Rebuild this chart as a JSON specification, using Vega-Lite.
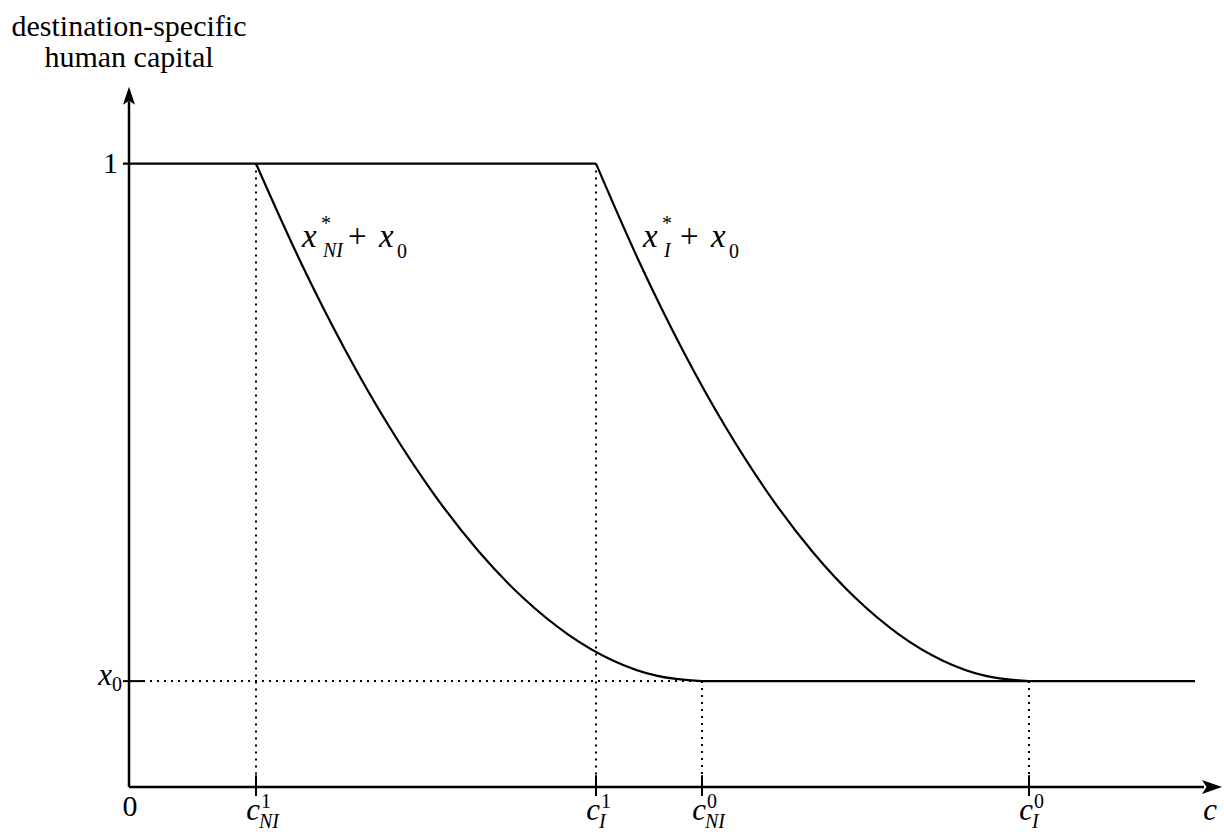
{
  "$schema": "https://vega.github.io/schema/vega-lite/v6.json",
  "width": 1224,
  "height": 832,
  "autosize": {"type": "fit", "contains": "padding"},
  "padding": 0,
  "background": "white",
  "config": {"view": {"stroke": null}, "text": {"font": "Liberation Serif", "color": "black"}},
  "encoding": {
    "x": {"field": "c", "type": "quantitative", "scale": {"domain": [-1.29, 10.95], "nice": false, "zero": false}, "axis": null},
    "y": {"field": "h", "type": "quantitative", "scale": {"domain": [-0.0688, 1.2624], "nice": false, "zero": false}, "axis": null}
  },
  "layer": [
    {
      "data": {"values": [
        {"c": 1.27, "h": 1, "h2": 0.02},
        {"c": 4.67, "h": 1, "h2": 0.02},
        {"c": 5.73, "h": 0.17, "h2": 0.02},
        {"c": 9.0, "h": 0.17, "h2": 0.02}
      ]},
      "mark": {"type": "rule", "color": "black", "strokeWidth": 2, "strokeDash": [2, 5]},
      "encoding": {"y2": {"field": "h2"}}
    },
    {
      "data": {"values": [{"c": 0.14, "c2": 5.73, "h": 0.17}]},
      "mark": {"type": "rule", "color": "black", "strokeWidth": 2, "strokeDash": [2, 5]},
      "encoding": {"x2": {"field": "c2"}}
    },
    {
      "data": {"values": [
        {"series": "top", "c": -0.06, "h": 1},
        {"series": "top", "c": 4.67, "h": 1},
        {"series": "NI", "c": 1.27, "h": 1.0},
        {"series": "NI", "c": 1.716, "h": 0.8423},
        {"series": "NI", "c": 2.162, "h": 0.7012},
        {"series": "NI", "c": 2.608, "h": 0.5767},
        {"series": "NI", "c": 3.054, "h": 0.4688},
        {"series": "NI", "c": 3.5, "h": 0.3775},
        {"series": "NI", "c": 3.946, "h": 0.3028},
        {"series": "NI", "c": 4.392, "h": 0.2447},
        {"series": "NI", "c": 4.838, "h": 0.2032},
        {"series": "NI", "c": 5.284, "h": 0.1783},
        {"series": "NI", "c": 5.73, "h": 0.17},
        {"series": "I", "c": 4.67, "h": 1.0},
        {"series": "I", "c": 5.103, "h": 0.8423},
        {"series": "I", "c": 5.536, "h": 0.7012},
        {"series": "I", "c": 5.969, "h": 0.5767},
        {"series": "I", "c": 6.402, "h": 0.4688},
        {"series": "I", "c": 6.835, "h": 0.3775},
        {"series": "I", "c": 7.268, "h": 0.3028},
        {"series": "I", "c": 7.701, "h": 0.2447},
        {"series": "I", "c": 8.134, "h": 0.2032},
        {"series": "I", "c": 8.567, "h": 0.1783},
        {"series": "I", "c": 9.0, "h": 0.17},
        {"series": "bottom", "c": 5.73, "h": 0.17},
        {"series": "bottom", "c": 10.66, "h": 0.17}
      ]},
      "mark": {"type": "line", "color": "black", "strokeWidth": 2.2, "interpolate": "monotone"},
      "encoding": {"detail": {"field": "series", "type": "nominal"}}
    },
    {
      "data": {"values": [
        {"c": 0, "h": 0, "c2": 10.75, "h2": 0},
        {"c": 0, "h": 0, "c2": 0, "h2": 1.1}
      ]},
      "mark": {"type": "rule", "color": "black", "strokeWidth": 2.5},
      "encoding": {"x2": {"field": "c2"}, "y2": {"field": "h2"}}
    },
    {
      "data": {"values": [
        {"c": 1.27, "c2": 1.27, "h": -0.0144, "h2": 0.0192},
        {"c": 4.67, "c2": 4.67, "h": -0.0144, "h2": 0.0192},
        {"c": 5.73, "c2": 5.73, "h": -0.0144, "h2": 0.0192},
        {"c": 9.0, "c2": 9.0, "h": -0.0144, "h2": 0.0192},
        {"c": -0.06, "c2": 0.14, "h": 0.17, "h2": 0.17}
      ]},
      "mark": {"type": "rule", "color": "black", "strokeWidth": 2},
      "encoding": {"x2": {"field": "c2"}, "y2": {"field": "h2"}}
    },
    {
      "data": {"values": [{"c": 10.83, "h": 0}]},
      "mark": {"type": "point", "filled": true, "color": "black", "opacity": 1, "strokeWidth": 0, "size": 400, "shape": "M1,0L-1,-0.7L-0.55,0L-1,0.7Z"}
    },
    {
      "data": {"values": [{"c": 0, "h": 1.1088}]},
      "mark": {"type": "point", "filled": true, "color": "black", "opacity": 1, "strokeWidth": 0, "size": 324, "shape": "M0,-1L-0.67,1L0,0.55L0.67,1Z"}
    },
    {
      "data": {"values": [
        {"c": 0, "h": 1.2048, "t": "destination-specific"},
        {"c": 0, "h": 1.1552, "t": "human capital"}
      ]},
      "mark": {"type": "text", "font": "Liberation Serif", "align": "center", "baseline": "alphabetic", "fontSize": 30},
      "encoding": {"text": {"field": "t"}}
    },
    {
      "data": {"values": [{"c": 0, "h": 0}]},
      "mark": {"type": "text", "font": "Liberation Serif", "text": "0", "align": "center", "baseline": "alphabetic", "fontSize": 30, "dx": 1, "dy": 29}
    },
    {
      "data": {"values": [{"c": 0, "h": 1}]},
      "mark": {"type": "text", "font": "Liberation Serif", "text": "1", "align": "right", "baseline": "alphabetic", "fontSize": 30, "dx": -11, "dy": 9}
    },
    {
      "data": {"values": [{"c": 0, "h": 0.17}]},
      "mark": {"type": "text", "font": "Liberation Serif", "text": "x", "align": "right", "baseline": "alphabetic", "fontSize": 31, "fontStyle": "italic", "dx": -17, "dy": 4}
    },
    {
      "data": {"values": [{"c": 0, "h": 0.17}]},
      "mark": {"type": "text", "font": "Liberation Serif", "text": "0", "align": "left", "baseline": "alphabetic", "fontSize": 20, "dx": -17, "dy": 10}
    },
    {
      "data": {"values": [
        {"c": 1.27, "h": 0, "sup": "1", "sub": "NI"},
        {"c": 4.67, "h": 0, "sup": "1", "sub": "I"},
        {"c": 5.73, "h": 0, "sup": "0", "sub": "NI"},
        {"c": 9.0, "h": 0, "sup": "0", "sub": "I"}
      ]},
      "layer": [
        {"mark": {"type": "text", "font": "Liberation Serif", "text": "c", "align": "right", "baseline": "alphabetic", "fontSize": 31, "fontStyle": "italic", "dx": 4, "dy": 33}},
        {"mark": {"type": "text", "font": "Liberation Serif", "align": "left", "baseline": "alphabetic", "fontSize": 20, "dx": 5, "dy": 21}, "encoding": {"text": {"field": "sup"}}},
        {"mark": {"type": "text", "font": "Liberation Serif", "align": "left", "baseline": "alphabetic", "fontSize": 20, "fontStyle": "italic", "dx": 3, "dy": 41}, "encoding": {"text": {"field": "sub"}}}
      ]
    },
    {
      "data": {"values": [{"c": 10.81, "h": 0}]},
      "mark": {"type": "text", "font": "Liberation Serif", "text": "c", "align": "center", "baseline": "alphabetic", "fontSize": 31, "fontStyle": "italic", "dy": 33}
    },
    {
      "data": {"values": [
        {"c": 1.73, "h": 0.867, "sub": "NI"},
        {"c": 5.14, "h": 0.867, "sub": "I"}
      ]},
      "layer": [
        {"mark": {"type": "text", "font": "Liberation Serif", "text": "x", "align": "left", "baseline": "alphabetic", "fontSize": 33, "fontStyle": "italic"}},
        {"mark": {"type": "text", "font": "Liberation Serif", "text": "*", "align": "left", "baseline": "alphabetic", "fontSize": 20, "dx": 19, "dy": -17}},
        {"mark": {"type": "text", "font": "Liberation Serif", "align": "left", "baseline": "alphabetic", "fontSize": 20, "fontStyle": "italic", "dx": 21, "dy": 10}, "encoding": {"text": {"field": "sub"}}}
      ]
    },
    {
      "data": {"values": [
        {"c": 2.19, "h": 0.867},
        {"c": 5.51, "h": 0.867}
      ]},
      "layer": [
        {"mark": {"type": "text", "font": "Liberation Serif", "text": "+", "align": "left", "baseline": "alphabetic", "fontSize": 33}},
        {"mark": {"type": "text", "font": "Liberation Serif", "text": "x", "align": "left", "baseline": "alphabetic", "fontSize": 33, "fontStyle": "italic", "dx": 31}},
        {"mark": {"type": "text", "font": "Liberation Serif", "text": "0", "align": "left", "baseline": "alphabetic", "fontSize": 20, "dx": 49, "dy": 11}}
      ]
    }
  ]
}
